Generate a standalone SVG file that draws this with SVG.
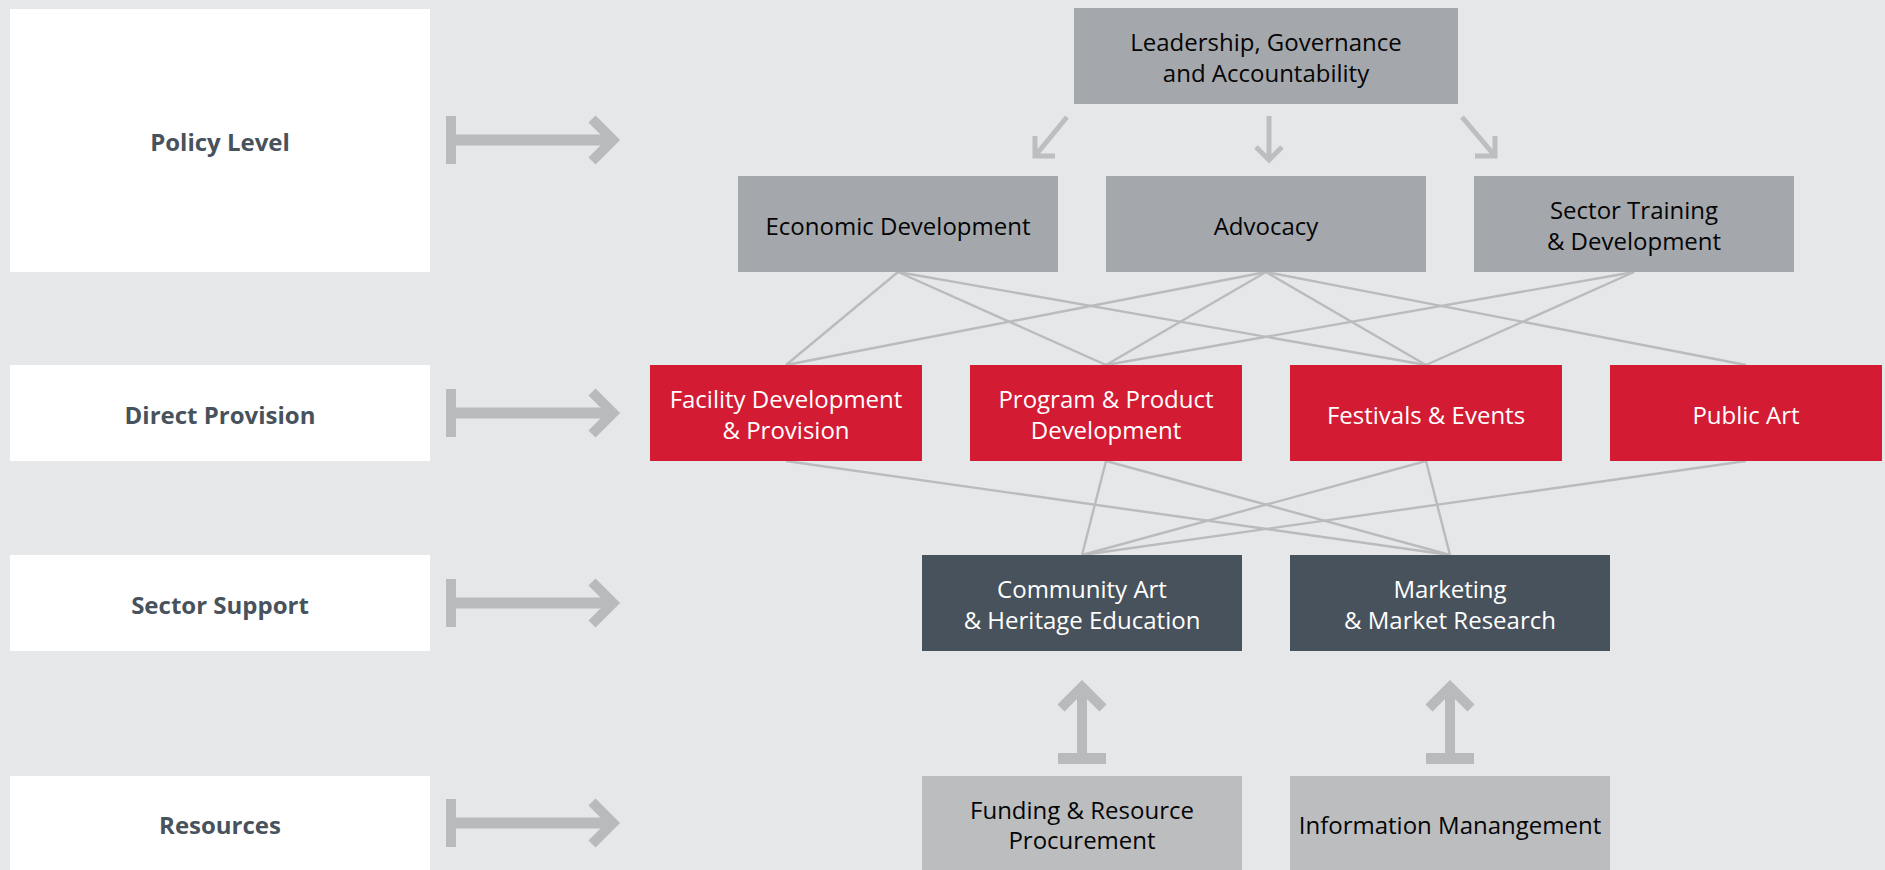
<svg xmlns="http://www.w3.org/2000/svg" width="1885" height="870" viewBox="0 0 1885 870">
<style>
.bg{fill:#e6e7e9}
.lbl{fill:#ffffff}
.lt{font-family:"Open Sans","Liberation Sans",sans-serif;font-weight:700;font-size:24px;fill:#48525c;text-anchor:middle}
.nt{font-family:"Open Sans","Liberation Sans",sans-serif;font-size:24px;text-anchor:middle}
.g1{fill:#a4a8ac}
.red{fill:#d41b34}
.dark{fill:#48525c}
.g2{fill:#bcbdbf}
.blk{fill:#050505}
.wht{fill:#ffffff}
.conn{stroke:#b9bbbd;stroke-width:2.4;fill:none}
.big{fill:#b8babc}
.chev{fill:none;stroke:#b8babc;stroke-width:10;stroke-linejoin:miter;stroke-linecap:butt}
.sm{fill:none;stroke:#bcbec0;stroke-width:5;stroke-linejoin:miter;stroke-linecap:butt}
</style>
<rect class="bg" x="0" y="0" width="1885" height="870"/>

<g id="connectors">
  <line class="conn" x1="898" y1="272" x2="786" y2="365"/>
  <line class="conn" x1="898" y1="272" x2="1106" y2="365"/>
  <line class="conn" x1="898" y1="272" x2="1426" y2="365"/>
  <line class="conn" x1="1266" y1="272" x2="786" y2="365"/>
  <line class="conn" x1="1266" y1="272" x2="1106" y2="365"/>
  <line class="conn" x1="1266" y1="272" x2="1426" y2="365"/>
  <line class="conn" x1="1266" y1="272" x2="1746" y2="365"/>
  <line class="conn" x1="1634" y1="272" x2="1106" y2="365"/>
  <line class="conn" x1="1634" y1="272" x2="1426" y2="365"/>
  <line class="conn" x1="786" y1="461" x2="1450" y2="555"/>
  <line class="conn" x1="1106" y1="461" x2="1082" y2="555"/>
  <line class="conn" x1="1106" y1="461" x2="1450" y2="555"/>
  <line class="conn" x1="1426" y1="461" x2="1082" y2="555"/>
  <line class="conn" x1="1426" y1="461" x2="1450" y2="555"/>
  <line class="conn" x1="1746" y1="461" x2="1082" y2="555"/>
  <path class="sm" d="M1067 117 L1035 156 M1035 136 L1035 156 L1055 156"/>
  <path class="sm" d="M1269 116 L1269 160 M1256 147 L1269 160 L1282 147"/>
  <path class="sm" d="M1462 117 L1495 156 M1475 156 L1495 156 L1495 136"/>
  <g id="arrow-policy">
    <rect class="big" x="446" y="116" width="10" height="48"/>
    <rect class="big" x="456" y="134.5" width="154" height="11"/>
    <polyline class="chev" points="592,119 613,140 592,161"/>
  </g>
  <g id="arrow-direct">
    <rect class="big" x="446" y="389" width="10" height="48"/>
    <rect class="big" x="456" y="407.5" width="154" height="11"/>
    <polyline class="chev" points="592,392 613,413 592,434"/>
  </g>
  <g id="arrow-sector">
    <rect class="big" x="446" y="579" width="10" height="48"/>
    <rect class="big" x="456" y="597.5" width="154" height="11"/>
    <polyline class="chev" points="592,582 613,603 592,624"/>
  </g>
  <g id="arrow-resources">
    <rect class="big" x="446" y="799" width="10" height="48"/>
    <rect class="big" x="456" y="817.5" width="154" height="11"/>
    <polyline class="chev" points="592,802 613,823 592,844"/>
  </g>
  <g id="arrow-up-1">
    <rect class="big" x="1058" y="753" width="48" height="11"/>
    <rect class="big" x="1077" y="690" width="10" height="63"/>
    <polyline class="chev" points="1061,708 1082,687 1103,708"/>
  </g>
  <g id="arrow-up-2">
    <rect class="big" x="1426" y="753" width="48" height="11"/>
    <rect class="big" x="1445" y="690" width="10" height="63"/>
    <polyline class="chev" points="1429,708 1450,687 1471,708"/>
  </g>
</g>

<g id="label-policy">
  <rect class="lbl" x="10" y="9" width="420" height="263"/>
  <text class="lt" x="220" y="150.5">Policy Level</text>
</g>
<g id="label-direct">
  <rect class="lbl" x="10" y="365" width="420" height="96"/>
  <text class="lt" x="220" y="423.5">Direct Provision</text>
</g>
<g id="label-sector">
  <rect class="lbl" x="10" y="555" width="420" height="96"/>
  <text class="lt" x="220" y="613.5">Sector Support</text>
</g>
<g id="label-resources">
  <rect class="lbl" x="10" y="776" width="420" height="96"/>
  <text class="lt" x="220" y="833.5">Resources</text>
</g>

<g id="node-leadership">
  <rect class="g1" x="1074" y="8" width="384" height="96"/>
  <text class="nt blk" x="1266" y="51">Leadership, Governance</text>
  <text class="nt blk" x="1266" y="82">and Accountability</text>
</g>
<g id="node-economic">
  <rect class="g1" x="738" y="176" width="320" height="96"/>
  <text class="nt blk" x="898" y="234.5">Economic Development</text>
</g>
<g id="node-advocacy">
  <rect class="g1" x="1106" y="176" width="320" height="96"/>
  <text class="nt blk" x="1266" y="234.5">Advocacy</text>
</g>
<g id="node-training">
  <rect class="g1" x="1474" y="176" width="320" height="96"/>
  <text class="nt blk" x="1634" y="219">Sector Training</text>
  <text class="nt blk" x="1634" y="249.5">&amp; Development</text>
</g>

<g id="node-facility">
  <rect class="red" x="650" y="365" width="272" height="96"/>
  <text class="nt wht" x="786" y="408">Facility Development</text>
  <text class="nt wht" x="786" y="438.5">&amp; Provision</text>
</g>
<g id="node-program">
  <rect class="red" x="970" y="365" width="272" height="96"/>
  <text class="nt wht" x="1106" y="408">Program &amp; Product</text>
  <text class="nt wht" x="1106" y="438.5">Development</text>
</g>
<g id="node-festivals">
  <rect class="red" x="1290" y="365" width="272" height="96"/>
  <text class="nt wht" x="1426" y="423.5">Festivals &amp; Events</text>
</g>
<g id="node-publicart">
  <rect class="red" x="1610" y="365" width="272" height="96"/>
  <text class="nt wht" x="1746" y="423.5">Public Art</text>
</g>

<g id="node-community">
  <rect class="dark" x="922" y="555" width="320" height="96"/>
  <text class="nt wht" x="1082" y="598">Community Art</text>
  <text class="nt wht" x="1082" y="628.5">&amp; Heritage Education</text>
</g>
<g id="node-marketing">
  <rect class="dark" x="1290" y="555" width="320" height="96"/>
  <text class="nt wht" x="1450" y="598">Marketing</text>
  <text class="nt wht" x="1450" y="628.5">&amp; Market Research</text>
</g>

<g id="node-funding">
  <rect class="g2" x="922" y="776" width="320" height="96"/>
  <text class="nt blk" x="1082" y="818.5">Funding &amp; Resource</text>
  <text class="nt blk" x="1082" y="849">Procurement</text>
</g>
<g id="node-information">
  <rect class="g2" x="1290" y="776" width="320" height="96"/>
  <text class="nt blk" x="1450" y="833.5">Information Manangement</text>
</g>
</svg>
